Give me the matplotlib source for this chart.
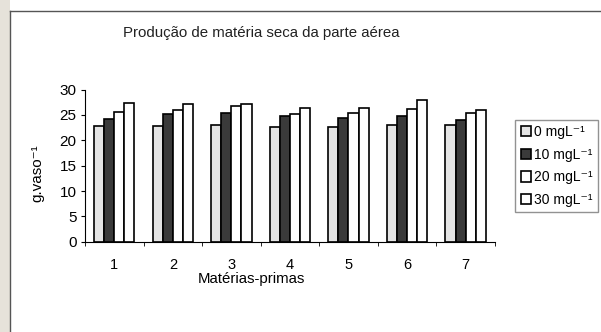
import numpy as np
import matplotlib.pyplot as plt
from matplotlib.lines import Line2D
from matplotlib.patches import Rectangle

plt.rcParams['font.family'] = ['Liberation Sans', 'DejaVu Sans']

materias = ['1', '2', '3', '4', '5', '6', '7']
doses = ['0 mgL⁻¹', '10 mgL⁻¹', '20 mgL⁻¹', '30 mgL⁻¹']
dose_0 = [22.8, 22.8, 23.0, 22.7, 22.7, 23.0, 23.0]
dose_10 = [24.3, 25.1, 25.4, 24.8, 24.5, 24.8, 24.1]
dose_20 = [25.6, 26.0, 26.8, 25.2, 25.4, 26.1, 25.4]
dose_30 = [27.3, 27.2, 27.1, 26.4, 26.3, 27.9, 26.0]

series = [dose_0, dose_10, dose_20, dose_30]
cores = ['#e4e4e4', '#3a3a3a', 'white', 'white']

fig = plt.figure(figsize=(6.01, 3.32), dpi=100)
ax = fig.add_axes([0.1414, 0.272, 0.682, 0.458])

x = np.arange(len(materias))
w = 0.172
for i, (vals, c) in enumerate(zip(series, cores)):
    ax.bar(x + (i - 1.5) * w, vals, w, color=c, edgecolor='black',
           linewidth=1.2, label=doses[i])

ax.set_ylim(0, 30)
ax.set_yticks(range(0, 31, 5))
ax.set_xlim(-0.5, len(materias) - 0.5)
ax.set_xticks(x)
ax.set_xticklabels(materias)
ax.set_xticks(np.arange(-0.5, len(materias)), minor=True)
ax.tick_params(axis='x', which='major', length=0, pad=12, labelsize=10.5)
ax.tick_params(axis='x', which='minor', length=3, direction='out')
ax.tick_params(axis='y', length=3, labelsize=11, pad=3)
ax.spines['top'].set_visible(False)
ax.spines['right'].set_visible(False)
ax.set_ylabel('g.vaso⁻¹', fontsize=11)
ax.yaxis.set_label_coords(-0.1, 0.45)
ax.set_xlabel('Matérias-primas', fontsize=10.8)
ax.xaxis.set_label_coords(0.407, -0.2)

fig.text(0.435, 0.9, 'Produção de matéria seca da parte aérea',
         ha='center', va='center', fontsize=10.8, color='#222222')

fig.legend(loc='upper left', bbox_to_anchor=(0.857, 0.64), fontsize=10,
           frameon=True, fancybox=False, edgecolor='#777777',
           handlelength=0.75, handleheight=0.75, handletextpad=0.2,
           labelspacing=0.62, borderpad=0.4, borderaxespad=0)

# moldura da área do gráfico
fig.add_artist(Rectangle((0, 0), 0.016, 1, transform=fig.transFigure,
                         facecolor='#e6e2da', edgecolor='none'))
fig.add_artist(Line2D([0.017, 1.0], [0.967, 0.967], transform=fig.transFigure,
                      color='#555555', linewidth=1.0))
fig.add_artist(Line2D([0.017, 0.017], [0.0, 0.967], transform=fig.transFigure,
                      color='#555555', linewidth=1.0))

fig.savefig('out.png', dpi=100)
